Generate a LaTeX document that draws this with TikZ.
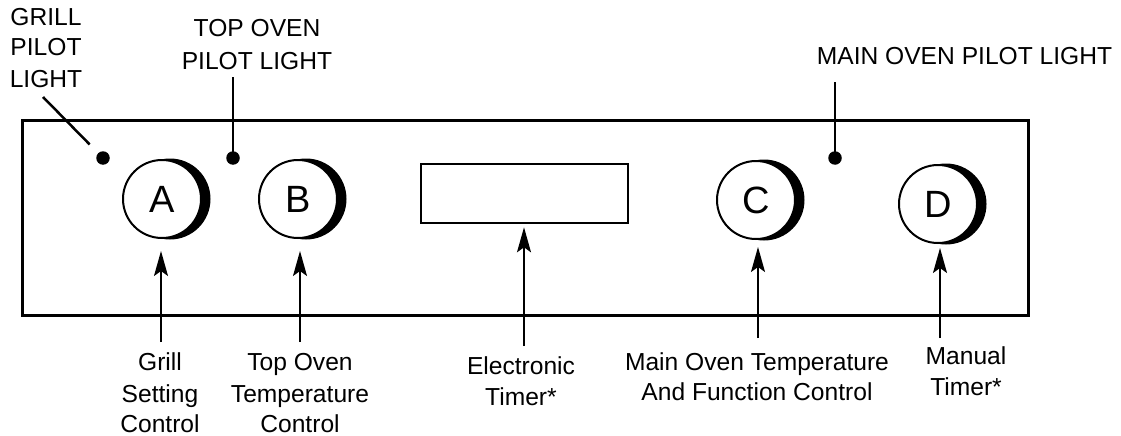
\documentclass[tikz,border=0pt]{standalone}
\usepackage{fontspec}
\setmainfont{Liberation Sans}
\usetikzlibrary{arrows.meta}
\begin{document}
\begin{tikzpicture}[x=1pt,y=-1pt,
  lbl/.style={font=\fontsize{24.6}{28}\selectfont, inner sep=0pt, anchor=base},
  knob/.style={circle, draw, line width=2pt, minimum size=78pt, inner sep=0pt, fill=white, font=\fontsize{38}{38}\selectfont},
  pdot/.style={circle, fill=black, minimum size=13.5pt, inner sep=0pt},
  ptr/.style={line width=1.6pt, -{Stealth[length=25pt,width=14pt,inset=5pt]}},
  lead/.style={line width=2.5pt},
  shadowfill/.style={fill=black}]
\useasboundingbox (0,0) rectangle (1121,436);
% panel
\draw[line width=3pt] (22,120) rectangle (1028,315);
% knob shadows
\fill[shadowfill] (170,199) circle (40.5pt);
\fill[shadowfill] (306,199) circle (40.5pt);
\fill[shadowfill] (764,200) circle (40.5pt);
\fill[shadowfill] (946,204) circle (40.5pt);
% knobs
\node[knob] (A) at (162,199) {A};
\node[knob] (B) at (298,199) {B};
\node[knob] (C) at (756,200) {C};
\node[knob] (D) at (938,204) {D};
% timer
\node[draw, line width=2.6pt, minimum width=207pt, minimum height=59pt, inner sep=0pt] (timer) at (524.5,193.5) {};
% pilot lights
\node[pdot] (gdot) at (103,158) {};
\node[pdot] (tdot) at (233,158) {};
\node[pdot] (mdot) at (835,158) {};
% top labels
\node[lbl] (glabel1) at (46,26) {GRILL};
\node[lbl] (glabel2) at (46,56) {PILOT};
\node[lbl] (glabel3) at (46,87) {LIGHT};
\node[lbl] (tlabel1) at (257,37) {TOP OVEN};
\node[lbl] (tlabel2) at (257,70) {PILOT LIGHT};
\node[lbl] (mlabel) at (964.5,65) {MAIN OVEN PILOT LIGHT};
% lead lines
\coordinate (glead) at (43,97);
\coordinate (tlead) at (233,77);
\coordinate (mlead) at (835,82);
\draw[lead, shorten >=19pt] (glead) -- (gdot.center);
\draw[lead] (tlead) -- (tdot.center);
\draw[lead] (mlead) -- (mdot.center);
% bottom labels
\node[lbl] (gl1) at (160,370) {Grill};
\node[lbl] (gl2) at (160,402) {Setting};
\node[lbl] (gl3) at (160,432) {Control};
\node[lbl] (tl1) at (300,370) {Top Oven};
\node[lbl] (tl2) at (300,402) {Temperature};
\node[lbl] (tl3) at (300,432) {Control};
\node[lbl] (el1) at (521,374) {Electronic};
\node[lbl] (el2) at (521,405) {Timer*};
\node[lbl] (ml1) at (757,370) {Main Oven Temperature};
\node[lbl] (ml2) at (757,400) {And Function Control};
\node[lbl] (dl1) at (966,364) {Manual};
\node[lbl] (dl2) at (966,395) {Timer*};
% arrows
\coordinate (ga) at (161,342);
\coordinate (ta) at (300,342);
\coordinate (ea) at (524,346);
\coordinate (ca) at (758,338);
\coordinate (da) at (940,338);
\draw[ptr, shorten >=12pt] (ga) -- (ga |- A.south);
\draw[ptr, shorten >=12pt] (ta) -- (ta |- B.south);
\draw[ptr, shorten >=3pt] (ea) -- (ea |- timer.south);
\draw[ptr, shorten >=7pt] (ca) -- (ca |- C.south);
\draw[ptr, shorten >=4pt] (da) -- (da |- D.south);
\end{tikzpicture}
\end{document}
